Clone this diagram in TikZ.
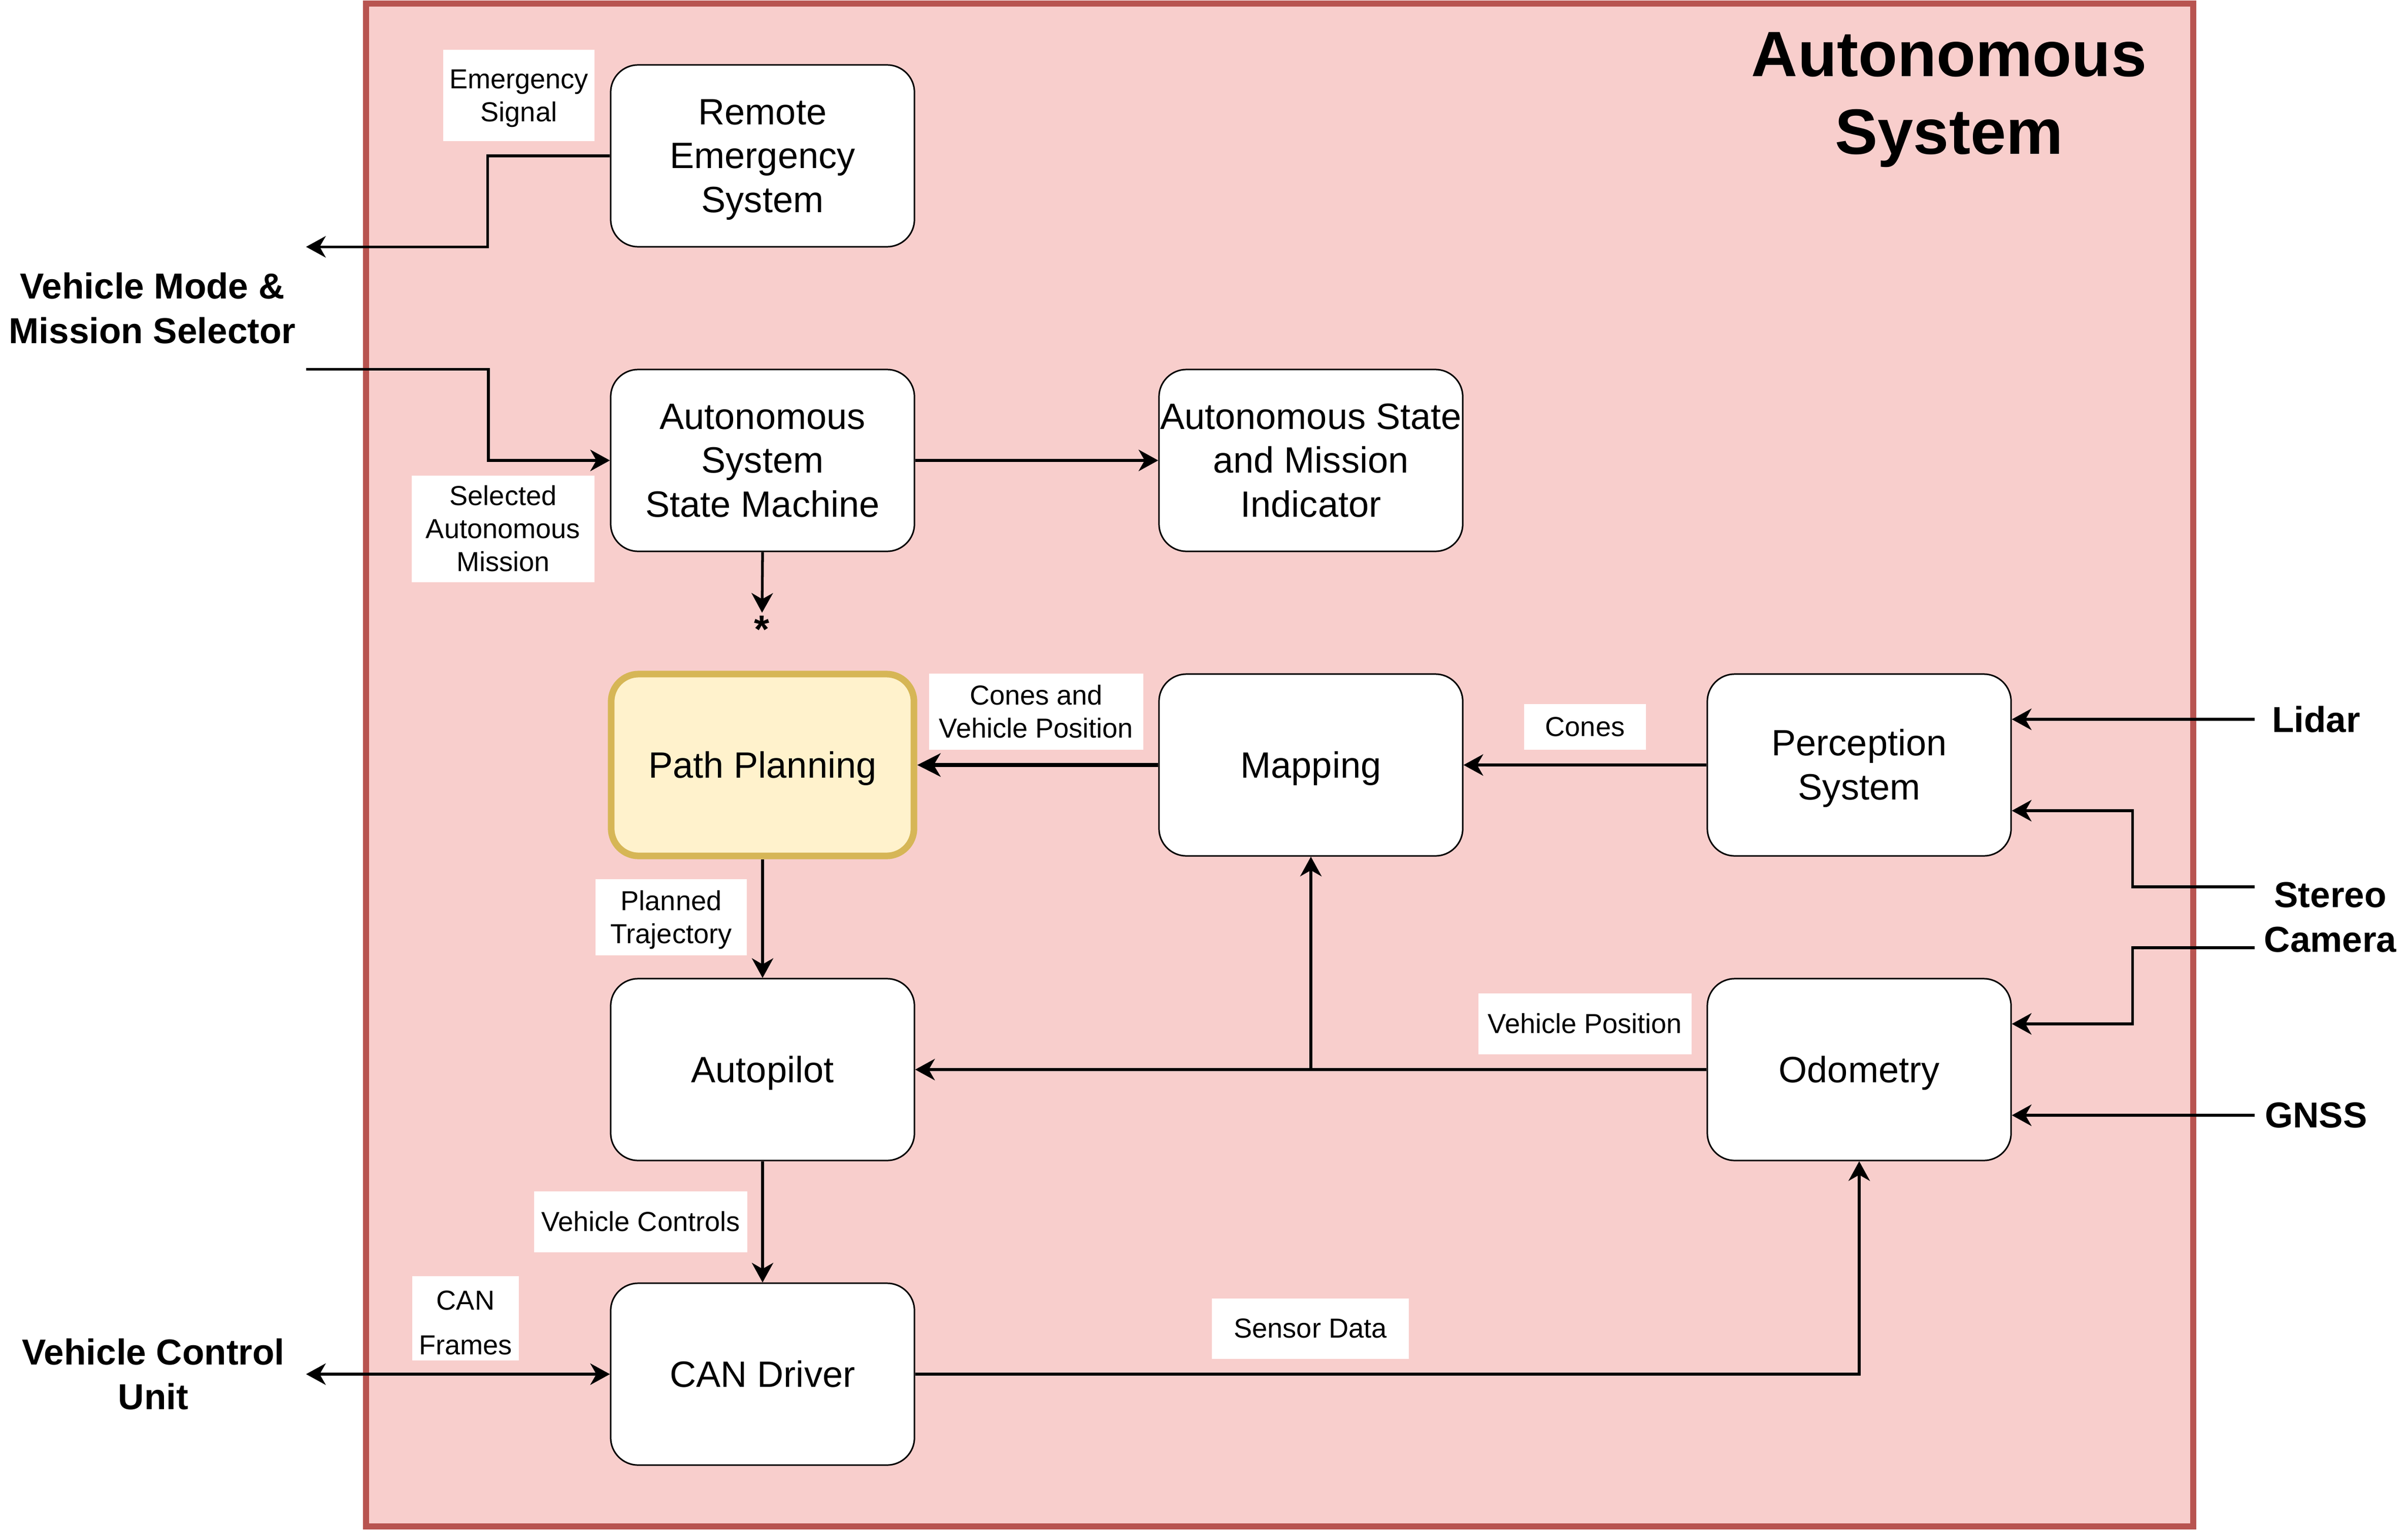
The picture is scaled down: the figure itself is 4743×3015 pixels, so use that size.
\documentclass[tikz,border=0pt]{standalone}
\usepackage{fontspec}
\setmainfont{Liberation Sans}
\usetikzlibrary{arrows.meta,calc}
\definecolor{frameFill}{HTML}{F8CECC}
\definecolor{frameLine}{HTML}{B85450}
\definecolor{ppFill}{HTML}{FFF2CC}
\definecolor{ppLine}{HTML}{D6B656}
\newcommand\lnTop{\rule{0pt}{0.9465em}}
\newcommand\lnBot{\rule[-0.2535em]{0pt}{0.2535em}}
\begin{document}
\begin{tikzpicture}[x=0.01cm,y=-0.01cm,
  blk/.style={draw=black, line width=0.85pt, fill=white, rounded corners=0.54cm,
    minimum width=5.98cm, minimum height=3.58cm, inner sep=0pt, align=center,
    font=\fontsize{20.5pt}{24.6pt}\selectfont},
  lbl/.style={fill=white, inner sep=0pt, align=center,
    font=\fontsize{15.4pt}{18.5pt}\selectfont},
  ext/.style={inner sep=0pt, align=center,
    font=\bfseries\fontsize{20.2pt}{25pt}\selectfont},
  ttl/.style={inner sep=0pt, align=center,
    font=\bfseries\fontsize{35.9pt}{43.5pt}\selectfont},
  tipA/.tip={Stealth[length=11pt,width=12pt,inset=3.4pt]},
  tipB/.tip={Stealth[length=13pt,width=13pt,inset=3.8pt]},
  conn/.style={line width=1.5pt, -tipA},
  conn2/.style={line width=1.5pt, tipA-tipA},
  thk/.style={line width=2.4pt, -tipB}
]
\useasboundingbox (0,0) rectangle (4743,3015);
\fill[white] (0,0) rectangle (4743,3015);

% container
\draw[draw=frameLine, fill=frameFill, line width=3.4pt] (721,7) rectangle (4320,3007);
\node[ttl] (title) at (3839,197) {Autonomous\\System};

% blocks
\node[blk] (rem)  at (1502,307)  {\lnTop Remote\\Emergency\\System\lnBot};
\node[blk] (assm) at (1502,907)  {\lnTop Autonomous\\System\\State Machine\lnBot};
\node[blk] (ind)  at (2582,907)  {\lnTop Autonomous State\\and Mission\\Indicator\lnBot};
\node[blk, fill=ppFill, draw=ppLine, line width=3.7pt, minimum width=5.96cm] (pp) at (1502,1507) {\lnTop Path Planning\lnBot};
\node[blk] (map)  at (2582,1507) {\lnTop Mapping\lnBot};
\node[blk] (per)  at (3662,1507) {\lnTop Perception\\System\lnBot};
\node[blk] (ap)   at (1502,2107) {\lnTop Autopilot\lnBot};
\node[blk] (odo)  at (3662,2107) {\lnTop Odometry\lnBot};
\node[blk] (can)  at (1502,2707) {\lnTop CAN Driver\lnBot};

% external
\node[ext, minimum width=6.04cm, minimum height=2.4cm] (vmms) at (300,607) {Vehicle Mode \&\\Mission Selector};
\node[ext, minimum width=6.0cm] (vcu) at (302,2707) {Vehicle Control\\Unit};
\node[ext, minimum width=2.4cm] (lidar) at (4562,1417) {Lidar};
\node[ext, minimum width=2.96cm] (stereo) at (4590,1807) {Stereo\\Camera};
\node[ext, minimum width=2.4cm] (gnss) at (4562,2197) {GNSS};
\node[inner sep=0pt, anchor=north, font=\bfseries\fontsize{22pt}{26pt}\selectfont] (star) at (1501,1213) {*};

% connectors
\draw[conn] (rem.west) -- ++(-241,0) |- (vmms.north east);
\draw[conn] (vmms.south east) -- ++(359,0) |- (assm.west);
\draw[conn] (assm.east) -- (ind.west);
\draw[conn] (assm.south) -- ($(star.north)+(0,-6)$);
\draw[thk] (map.west) -- (pp.east);
\draw[conn] (per.west) -- (map.east);
\draw[conn] (pp.south) -- (ap.north);
\draw[conn] (ap.south) -- (can.north);
\draw[conn] (odo.west) -- (ap.east);
\coordinate (jn) at (map.south |- ap.east);
\draw[conn] (jn) -- (map.south);
\draw[conn] (can.east) -| (odo.south);
\draw[conn2] (vcu.east) -- (can.west);
\draw[conn] (lidar.west) -- (per.east |- lidar.west);
\draw[conn] ($(stereo.west)+(0,-60)$) -- ++(-241,0) |- ($(per.east)+(0,90)$);
\draw[conn] ($(stereo.west)+(0,60)$) -- ++(-241,0) |- ($(odo.east)+(0,-90)$);
\draw[conn] (gnss.west) -- (odo.east |- gnss.west);

% labels
\node[lbl, minimum width=2.98cm, minimum height=1.79cm] (lEm) at (1022,188) {\lnTop Emergency\\Signal\lnBot};
\node[lbl, minimum width=3.59cm, minimum height=2.09cm] (lSel) at (991,1042) {\lnTop Selected\\Autonomous\\Mission\lnBot};
\node[lbl, minimum width=4.21cm, minimum height=1.49cm] (lCV) at (2041,1402) {\lnTop Cones and\\Vehicle Position\lnBot};
\node[lbl, minimum width=2.39cm, minimum height=0.9cm] (lCo) at (3122,1432) {\lnTop Cones\lnBot};
\node[lbl, minimum width=2.98cm, minimum height=1.49cm] (lPT) at (1322,1807) {\lnTop Planned\\Trajectory\lnBot};
\node[lbl, minimum width=4.19cm, minimum height=1.2cm] (lVP) at (3122,2017) {\lnTop Vehicle Position\lnBot};
\node[lbl, minimum width=4.19cm, minimum height=1.2cm] (lVC) at (1262,2407) {\lnTop Vehicle Controls\lnBot};
\node[lbl, minimum width=2.1cm, minimum height=1.66cm, font=\fontsize{15.4pt}{25pt}\selectfont] (lCF) at (917,2597) {\rule{0pt}{1.04em}CAN\\Frames};
\node[lbl, minimum width=3.88cm, minimum height=1.19cm] (lSD) at (2581,2617) {\lnTop Sensor Data\lnBot};
\end{tikzpicture}
\end{document}
